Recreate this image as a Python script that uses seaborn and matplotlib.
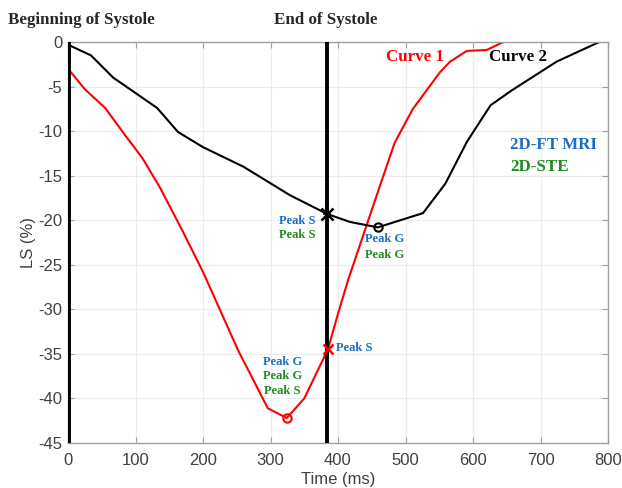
import matplotlib
matplotlib.use("Agg")
import matplotlib.pyplot as plt
import seaborn as sns
import pandas as pd

# Curve 1 (red)
c1_t = [0, 25, 55, 85, 110, 136, 169, 200, 252, 296, 324, 350, 385, 400, 415, 440, 465, 484, 511, 551, 566, 591, 620, 645]
c1_ls = [-3.0, -5.3, -7.4, -10.5, -13.0, -16.3, -21.1, -25.8, -34.6, -41.1, -42.2, -40.0, -34.5, -30.5, -26.7, -21.1, -15.5, -11.3, -7.5, -3.4, -2.2, -1.0, -0.9, 0.0]
# Curve 2 (black)
c2_t = [0, 34, 67, 132, 163, 200, 260, 329, 384, 418, 459, 526, 559, 591, 626, 658, 724, 787]
c2_ls = [-0.3, -1.5, -4.0, -7.4, -10.1, -11.8, -14.0, -17.2, -19.3, -20.2, -20.8, -19.2, -15.9, -11.2, -7.1, -5.4, -2.2, 0.0]

end_systole = 383
peak_s_black = (384, -19.3)
peak_g_black = (459, -20.8)
peak_s_red = (385, -34.5)
peak_g_red = (324, -42.2)

xticks = [0, 100, 200, 300, 400, 500, 600, 700, 800]
yticks = [0, -5, -10, -15, -20, -25, -30, -35, -40, -45]

BLUE = "#1a6fc4"
GREEN = "#1f8a1f"

sns.set_style("whitegrid", {"grid.color": "#ebebeb", "axes.edgecolor": "#a0a0a0"})
plt.rcParams['font.family'] = ['Liberation Sans', 'DejaVu Sans']
plt.rcParams['axes.unicode_minus'] = False

fig = plt.figure(figsize=(6.22, 4.88), dpi=100)
ax = fig.add_axes([68/622, 1-443/488, 540/622, 401/488])

df1 = pd.DataFrame({"t": c1_t, "ls": c1_ls})
df2 = pd.DataFrame({"t": c2_t, "ls": c2_ls})
sns.lineplot(data=df1, x="t", y="ls", color="red", lw=1.5, ax=ax, sort=False)
sns.lineplot(data=df2, x="t", y="ls", color="black", lw=1.5, ax=ax, sort=False)

ax.axvline(end_systole, color="black", lw=2.8, zorder=5)
ax.axvline(0, color="black", lw=3.5, zorder=5)

ax.plot(*peak_s_black, marker="x", color="black", ms=8, mew=1.8, zorder=6)
ax.plot(*peak_s_black, marker="+", color="black", ms=6, mew=1.2, zorder=6)
ax.plot(*peak_g_black, marker="o", mfc="none", mec="black", ms=6, mew=1.5, zorder=6)
ax.plot(*peak_s_red, marker="x", color="red", ms=7, mew=1.8, zorder=6)
ax.plot(*peak_g_red, marker="o", mfc="none", mec="red", ms=6, mew=1.5, zorder=6)

ax.set_xlim(0, 800)
ax.set_ylim(-45, 0)
ax.set_xticks(xticks)
ax.set_yticks(yticks)
ax.tick_params(direction="in", length=4, color="#a0a0a0", labelsize=12, labelcolor="#404040",
               top=True, right=True, bottom=True, left=True, pad=4)
ax.tick_params(axis="x", pad=7)
ax.set_xlabel("Time (ms)", fontsize=12, color="#404040", labelpad=3)
ax.set_ylabel("LS (%)", fontsize=12, color="#404040", labelpad=2)
for s in ax.spines.values():
    s.set_color("#a0a0a0")
    s.set_linewidth(1)

serif = ['Liberation Serif', 'DejaVu Serif']
fig.text(8/622, 1-20/488, "Beginning of Systole", family=serif, fontweight="bold", fontsize=12.2, va="center", ha="left")
fig.text(326/622, 1-20/488, "End of Systole", family=serif, fontweight="bold", fontsize=12.2, va="center", ha="center")

def t(x, y, s, c, ha="left", fs=9):
    ax.text(x, y, s, color=c, family=serif, fontweight="bold", fontsize=fs, ha=ha, va="center", zorder=7)

t(514, -1.7, "Curve 1", "red", ha="center", fs=12.2)
t(667, -1.7, "Curve 2", "black", ha="center", fs=12.2)
t(655, -11.6, "2D-FT MRI", BLUE, ha="left", fs=12.2)
t(655, -14.0, "2D-STE", GREEN, ha="left", fs=12.2)

t(366, -20.1, "Peak S", BLUE, ha="right")
t(366, -21.7, "Peak S", GREEN, ha="right")
t(469, -22.1, "Peak G", BLUE, ha="center")
t(469, -23.9, "Peak G", GREEN, ha="center")
t(397, -34.3, "Peak S", BLUE, ha="left")
t(318, -35.9, "Peak G", BLUE, ha="center")
t(318, -37.5, "Peak G", GREEN, ha="center")
t(318, -39.2, "Peak S", GREEN, ha="center")

fig.savefig("out.png", dpi=100)
